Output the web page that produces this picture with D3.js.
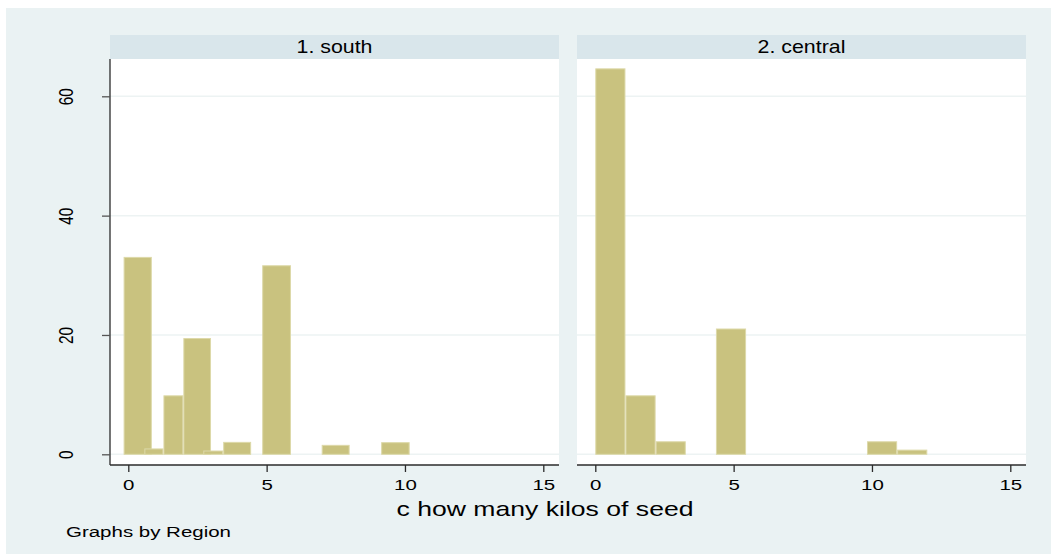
<!DOCTYPE html>
<html>
<head>
<meta charset="utf-8">
<script src="https://cdn.jsdelivr.net/npm/d3@7"></script>
<style>
  html, body { margin: 0; padding: 0; background: #ffffff; }
  svg { display: block; }
  text { font-family: "Liberation Sans", Arial, Helvetica, sans-serif; fill: #000; }
</style>
</head>
<body>
<svg id="chart" width="1051" height="555"></svg>
<script>
// Histogram of seed kilos, one panel per region (percent of households)
const panelTitles = ["1. south", "2. central"];

const southBinStart = [-0.17, 0.58, 1.27, 1.99, 2.71, 3.43, 4.84, 6.99, 9.14];
const southBinEnd   = [0.85, 1.27, 1.99, 2.99, 3.43, 4.44, 5.88, 8.00, 10.17];
const southPercent  = [33.0, 0.9, 9.8, 19.4, 0.55, 2.0, 31.6, 1.5, 1.95];

const centralBinStart = [0, 1.09, 2.18, 4.36, 9.82, 10.91];
const centralBinEnd   = [1.09, 2.18, 3.27, 5.45, 10.91, 12.0];
const centralPercent  = [64.6, 9.8, 2.1, 21.0, 2.1, 0.7];

const xTicks = [0, 5, 10, 15];
const yTicks = [0, 20, 40, 60];
const xTitle = "c how many kilos of seed";
const note = "Graphs by Region";

const svg = d3.select("#chart");
const SX = 1.33; // horizontal text stretch

const bgColor = "#EAF2F3";
const stripColor = "#D9E6EB";
const gridColor = "#EDF3F3";
const barFill = "#C9C27F";
const barStroke = "#DDD9A9";
const axisColor = "#2b2b2b";

// outer background
svg.append("rect").attr("x", 6).attr("y", 8).attr("width", 1045).attr("height", 546)
  .attr("fill", bgColor);

const plotTop = 59, stripTop = 35, axisY = 465;
const yScale = d3.scaleLinear().domain([0, 60]).range([454.3, 96.3]);

const panels = [
  { title: panelTitles[0], x0: 110, x1: 559, starts: southBinStart, ends: southBinEnd, vals: southPercent, yAxis: true },
  { title: panelTitles[1], x0: 577, x1: 1026, starts: centralBinStart, ends: centralBinEnd, vals: centralPercent, yAxis: false }
];

panels.forEach(p => {
  const xScale = d3.scaleLinear().domain([0, 15]).range([p.x0 + 18.3, p.x0 + 433.3]);
  const g = svg.append("g");

  // strip header
  g.append("rect").attr("x", p.x0).attr("y", stripTop).attr("width", p.x1 - p.x0).attr("height", plotTop - stripTop)
    .attr("fill", stripColor);
  g.append("text")
    .attr("transform", `translate(${(p.x0 + p.x1) / 2},53) scale(1.22,1)`)
    .attr("text-anchor", "middle").attr("font-size", 17.5).text(p.title);

  // plot region
  g.append("rect").attr("x", p.x0).attr("y", plotTop).attr("width", p.x1 - p.x0).attr("height", axisY - plotTop)
    .attr("fill", "#ffffff");

  // horizontal grid
  g.selectAll("line.grid").data(yTicks).enter().append("line")
    .attr("class", "grid")
    .attr("x1", p.x0).attr("x2", p.x1)
    .attr("y1", d => yScale(d)).attr("y2", d => yScale(d))
    .attr("stroke", gridColor).attr("stroke-width", 1.5);

  // bars
  const bins = p.vals.map((v, i) => ({ a: p.starts[i], b: p.ends[i], v }));
  g.selectAll("rect.bar").data(bins).enter().append("rect")
    .attr("class", "bar")
    .attr("x", d => xScale(d.a) + 0.5)
    .attr("width", d => xScale(d.b) - xScale(d.a) - 1)
    .attr("y", d => yScale(d.v))
    .attr("height", d => yScale(0) - yScale(d.v))
    .attr("fill", barFill).attr("stroke", barStroke).attr("stroke-width", 1);

  // x axis
  const xAxis = d3.axisBottom(xScale).tickValues(xTicks).tickSize(7).tickPadding(6).tickFormat(d3.format("d"));
  const ax = g.append("g").attr("transform", `translate(0,${axisY})`).call(xAxis);
  ax.select(".domain").attr("d", `M${p.x0},0H${p.x1}`).attr("stroke", axisColor).attr("stroke-width", 1.3);
  ax.selectAll(".tick line").attr("stroke", axisColor).attr("stroke-width", 1.3);
  ax.selectAll(".tick text").each(function () {
    const t = d3.select(this);
    t.attr("y", null).attr("dy", null)
      .attr("transform", `translate(0,25) scale(${SX},1)`)
      .attr("font-size", 15.4).attr("fill", "#000")
      .attr("font-family", "Liberation Sans, Arial, sans-serif");
  });

  if (p.yAxis) {
    const yAxis = d3.axisLeft(yScale).tickValues(yTicks).tickSize(8).tickFormat(d3.format("d"));
    const ay = g.append("g").attr("transform", `translate(${p.x0},0)`).call(yAxis);
    ay.select(".domain").attr("d", `M0,${plotTop}V${axisY}`).attr("stroke", axisColor).attr("stroke-width", 1.3);
    ay.selectAll(".tick line").attr("stroke", "#555").attr("stroke-width", 1.3);
    ay.selectAll(".tick text").each(function () {
      d3.select(this).attr("x", null).attr("dy", null)
        .attr("transform", `translate(-37,0) scale(${SX},1) rotate(-90)`)
        .attr("text-anchor", "middle")
        .attr("font-size", 15.4).attr("fill", "#000")
        .attr("font-family", "Liberation Sans, Arial, sans-serif");
    });
  }
});

// x-axis title
svg.append("text")
  .attr("transform", `translate(545,516) scale(${SX},1)`)
  .attr("text-anchor", "middle").attr("font-size", 20).text(xTitle);

// note
svg.append("text")
  .attr("transform", `translate(66,536.5) scale(${SX},1)`)
  .attr("font-size", 15.4).text(note);
</script>
</body>
</html>
